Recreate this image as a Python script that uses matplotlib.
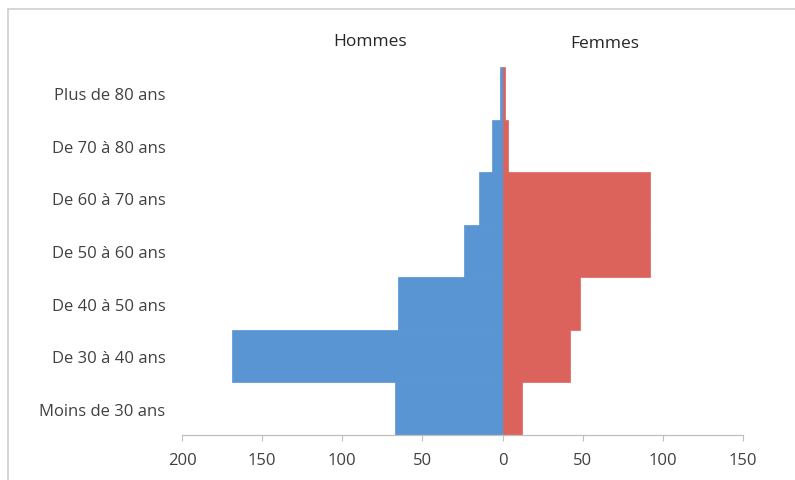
import matplotlib
matplotlib.use("Agg")
import matplotlib.pyplot as plt
from matplotlib.lines import Line2D

plt.rcParams['font.family'] = ['Open Sans', 'DejaVu Sans']

# Age groups, bottom to top
categories = ["Moins de 30 ans", "De 30 à 40 ans", "De 40 à 50 ans",
              "De 50 à 60 ans", "De 60 à 70 ans", "De 70 à 80 ans",
              "Plus de 80 ans"]
hommes = [67, 169, 65, 24, 15, 6.5, 1.5]
femmes = [12, 42, 48.5, 92, 92, 3.3, 1.8]
tick_values = [-200, -150, -100, -50, 0, 50, 100, 150]

blue = "#5a95d3"
red = "#db635c"

fig = plt.figure(figsize=(7.95, 4.81), dpi=100)
ax = fig.add_axes([0.229, 0.0936, 0.7056, 0.765])

y = list(range(len(categories)))
ax.barh(y, [-v for v in hommes], height=1.0, color=blue, edgecolor=blue, linewidth=0.5)
ax.barh(y, femmes, height=1.0, color=red, edgecolor=red, linewidth=0.5)

ax.set_xlim(-200, 150)
ax.set_ylim(-0.5, len(categories) - 0.5)

ax.set_xticks(tick_values)
ax.set_xticklabels([str(abs(v)) for v in tick_values], fontsize=12, color="#404040")
ax.set_yticks(y)
ax.set_yticklabels(categories, fontsize=12, color="#404040")
ax.tick_params(axis='y', length=0, pad=12)
ax.tick_params(axis='x', length=4, width=0.8, color="#bfbfbf", pad=8)

for side in ["top", "right", "left"]:
    ax.spines[side].set_visible(False)
ax.spines["bottom"].set_color("#bfbfbf")
ax.spines["bottom"].set_linewidth(0.9)

fig.text(370 / 795, 1 - 42 / 481, "Hommes", ha="center", va="center",
         fontsize=12.5, color="#262626")
fig.text(605 / 795, 1 - 44 / 481, "Femmes", ha="center", va="center",
         fontsize=12.5, color="#262626")

# Chart area border: top and left edges only
top_y = 1 - 10 / 481
left_x = 8 / 795
fig.add_artist(Line2D([left_x, 1.0], [top_y, top_y], transform=fig.transFigure,
                      color="#d0d0d0", linewidth=1.2))
fig.add_artist(Line2D([left_x, left_x], [0.0, top_y], transform=fig.transFigure,
                      color="#d0d0d0", linewidth=1.2))

fig.savefig("out.png", dpi=100)
